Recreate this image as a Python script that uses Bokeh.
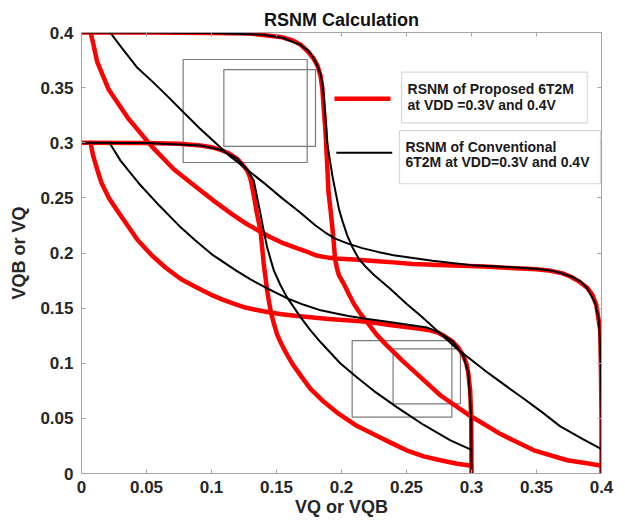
from bokeh.plotting import figure
from bokeh.models import Range1d, LinearAxis, FixedTicker, BoxAnnotation, Label
from bokeh.embed import file_html
from bokeh.resources import INLINE

# ---------------- data ----------------
tick_values = [0, 0.05, 0.1, 0.15, 0.2, 0.25, 0.3, 0.35, 0.4]
tick_labels = ["0", "0.05", "0.1", "0.15", "0.2", "0.25", "0.3", "0.35", "0.4"]

# Proposed 6T2M, VDD = 0.4 V  (VTC: input -> output)
prop04_vin = [0, 0.05, 0.10, 0.13, 0.153, 0.162, 0.1685, 0.174, 0.1787, 0.1815, 0.1838,
              0.1852, 0.1864, 0.1877, 0.189, 0.190, 0.1915, 0.1928, 0.194, 0.195, 0.1965,
              0.198, 0.2018, 0.2055, 0.2095, 0.2145, 0.2198, 0.227, 0.235, 0.248, 0.262,
              0.276, 0.2967, 0.322, 0.348, 0.3736, 0.39, 0.4]
prop04_vout = [0.4, 0.4, 0.3995, 0.399, 0.396, 0.393, 0.389, 0.383, 0.376, 0.370, 0.361,
               0.350, 0.33, 0.31, 0.28, 0.255, 0.24, 0.225, 0.21, 0.195, 0.186,
               0.18, 0.172, 0.163, 0.154, 0.145, 0.137, 0.126, 0.116, 0.101, 0.086,
               0.071, 0.054, 0.036, 0.021, 0.012, 0.009, 0.007]

# Conventional 6T2M, VDD = 0.4 V
conv04_vin = [0, 0.05, 0.10, 0.14, 0.155, 0.168, 0.174, 0.178, 0.181, 0.184, 0.1855,
              0.1865, 0.1878, 0.189, 0.191, 0.193, 0.1955, 0.198, 0.201, 0.2044, 0.2085,
              0.2133, 0.219, 0.225, 0.237, 0.25, 0.262, 0.275, 0.289, 0.3, 0.313, 0.327,
              0.34, 0.355, 0.368, 0.386, 0.4]
conv04_vout = [0.4, 0.4, 0.3995, 0.398, 0.395, 0.389, 0.384, 0.378, 0.371, 0.362, 0.352,
               0.34, 0.32, 0.30, 0.285, 0.27, 0.255, 0.24, 0.228, 0.216, 0.205,
               0.1947, 0.187, 0.18, 0.168, 0.154, 0.142, 0.128, 0.113, 0.103, 0.091, 0.079,
               0.068, 0.055, 0.043, 0.031, 0.022]

# Proposed 6T2M, VDD = 0.3 V
prop03_vin = [0, 0.05, 0.075, 0.0915, 0.1, 0.107, 0.114, 0.1198, 0.124, 0.1275, 0.1298,
              0.1313, 0.1332, 0.135, 0.1377, 0.1402, 0.1428, 0.1445, 0.146, 0.148, 0.1505,
              0.154, 0.158, 0.1625, 0.1685, 0.176, 0.1864, 0.198, 0.212, 0.224, 0.2377,
              0.25, 0.2633, 0.276, 0.289, 0.3]
prop03_vout = [0.3, 0.2998, 0.299, 0.2975, 0.296, 0.2936, 0.290, 0.2854, 0.280, 0.2748, 0.268,
               0.26, 0.248, 0.2355, 0.2204, 0.19, 0.166, 0.154, 0.145, 0.136, 0.126,
               0.117, 0.108, 0.099, 0.089, 0.077, 0.065, 0.054, 0.043, 0.036, 0.028,
               0.021, 0.0155, 0.012, 0.0088, 0.007]

# Conventional 6T2M, VDD = 0.3 V
conv03_vin = [0, 0.05, 0.0915, 0.107, 0.1198, 0.1275, 0.1325, 0.1352, 0.1377, 0.1402,
              0.1428, 0.1455, 0.148, 0.153, 0.158, 0.1685, 0.176, 0.184, 0.199, 0.212,
              0.2248, 0.2428, 0.2633, 0.2838, 0.3]
conv03_vout = [0.3, 0.2998, 0.2975, 0.2936, 0.2856, 0.2755, 0.2658, 0.25, 0.2355, 0.22,
               0.2053, 0.194, 0.184, 0.171, 0.16, 0.1418, 0.13, 0.119, 0.100, 0.087,
               0.075, 0.060, 0.044, 0.030, 0.0215]

# Noise-margin squares
box_left = [0.0782, 0.1095, 0.2082, 0.2397]
box_right = [0.1736, 0.1800, 0.2849, 0.2915]
box_bottom = [0.2821, 0.2967, 0.0511, 0.0632]
box_top = [0.3755, 0.3664, 0.1206, 0.1131]

legend_lines = [["RSNM of Proposed 6T2M", "at VDD =0.3V and 0.4V"],
                ["RSNM of Conventional", "6T2M at VDD=0.3V and 0.4V"]]

# ---------------- styling ----------------
FONT = "Liberation Sans"
RED = "#ff0000"
BLACK = "#000000"
AXIS_GRAY = "#a6a6a6"
TEXT = "#262626"

p = figure(width=625, height=522, x_range=Range1d(0, 0.4), y_range=Range1d(0, 0.4),
           output_backend="svg", toolbar_location=None,
           min_border_left=81, min_border_right=24, min_border_top=32, min_border_bottom=49,
           title="RSNM Calculation", background_fill_color="white", border_fill_color="white")

p.title.align = "center"
p.title.text_font = FONT
p.title.text_font_size = "18px"
p.title.text_font_style = "bold"
p.title.text_color = "#111111"
p.title.standoff = 5

p.xgrid.visible = False
p.ygrid.visible = False
p.outline_line_color = AXIS_GRAY

ticker = FixedTicker(ticks=tick_values)
overrides = {v: s for v, s in zip(tick_values, tick_labels)}

for ax in (p.xaxis[0], p.yaxis[0]):
    ax.ticker = ticker
    ax.major_label_overrides = overrides
    ax.major_label_text_font = FONT
    ax.major_label_text_font_size = "17px"
    ax.major_label_text_font_style = "bold"
    ax.major_label_text_color = TEXT
    ax.axis_line_color = AXIS_GRAY
    ax.major_tick_line_color = AXIS_GRAY
    ax.major_tick_in = 4
    ax.major_tick_out = 0
    ax.minor_tick_line_color = None
    ax.axis_label_text_font = FONT
    ax.axis_label_text_font_size = "18px"
    ax.axis_label_text_font_style = "bold"
    ax.axis_label_text_color = TEXT

p.xaxis.axis_label = "VQ or VQB"
p.yaxis.axis_label = "VQB or VQ"
p.xaxis.major_label_standoff = 7
p.xaxis.axis_label_standoff = 1
p.yaxis.major_label_standoff = 8
p.yaxis.axis_label_standoff = 8

# mirrored tick marks on the top and right edges (no labels)
for side in ("above", "right"):
    extra = LinearAxis(ticker=FixedTicker(ticks=tick_values))
    extra.major_label_text_color = None
    extra.major_label_standoff = 0
    extra.major_tick_in = 4
    extra.major_tick_out = 0
    extra.minor_tick_line_color = None
    extra.axis_line_color = AXIS_GRAY
    extra.major_tick_line_color = AXIS_GRAY
    p.add_layout(extra, side)

# noise margin squares
p.quad(left=box_left, right=box_right, bottom=box_bottom, top=box_top,
       fill_color=None, line_color="#7a7a7a", line_width=1.2)

# butterfly curves: each VTC plus its mirror
for vin, vout in ((prop04_vin, prop04_vout), (prop03_vin, prop03_vout)):
    p.line(vin, vout, line_color=RED, line_width=4.5, line_join="round", line_cap="round")
    p.line(vout, vin, line_color=RED, line_width=4.5, line_join="round", line_cap="round")
for vin, vout in ((conv04_vin, conv04_vout), (conv03_vin, conv03_vout)):
    p.line(vin, vout, line_color=BLACK, line_width=2, line_join="round", line_cap="round")
    p.line(vout, vin, line_color=BLACK, line_width=2, line_join="round", line_cap="round")

# ---------------- legend (custom, as in the reference) ----------------
legend_boxes = [(0.2462, 0.389, 0.318, 0.364), (0.2446, 0.3992, 0.2628, 0.311)]
legend_text_pos = [(0.2508, 0.3483, 0.3338), (0.2492, 0.296, 0.2824)]
legend_keys = [(0.1946, 0.2377, 0.340, RED, 4.5), (0.196, 0.239, 0.2909, BLACK, 2)]

for (l, r, b, t), (tx, ty1, ty2), lines, (kx0, kx1, ky, kc, kw) in zip(
        legend_boxes, legend_text_pos, legend_lines, legend_keys):
    p.add_layout(BoxAnnotation(left=l, right=r, bottom=b, top=t, fill_color="white",
                               fill_alpha=1.0, line_color="#7f7f7f", line_width=1.2))
    for ty, txt in ((ty1, lines[0]), (ty2, lines[1])):
        p.add_layout(Label(x=tx, y=ty, text=txt, text_font=FONT, text_font_size="14px",
                           text_font_style="bold", text_color="#1a1a1a",
                           text_baseline="alphabetic", text_align="left"))
    p.segment(x0=[kx0], y0=[ky], x1=[kx1], y1=[ky], line_color=kc, line_width=kw)

open("out.html", "w").write(file_html(p, INLINE))
